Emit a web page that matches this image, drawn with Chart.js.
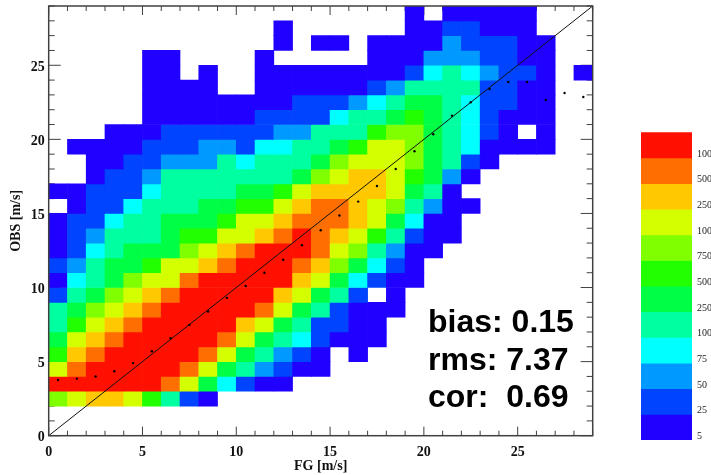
<!DOCTYPE html>
<html lang="en">
<head>
<meta charset="UTF-8">
<title>chart</title>
<style>
  html, body { margin: 0; padding: 0; background: #fff; overflow: hidden; }
  #mainChart { position: absolute; left: 0; top: 0; }
  #scaleChart { position: absolute; left: 630px; top: 120px; }
</style>
</head>
<body>
<canvas id="mainChart" width="711" height="475"></canvas>
<canvas id="scaleChart" width="81" height="335"></canvas>
<script src="https://cdn.jsdelivr.net/npm/chart.js"></script>
<script>

// colour class of each FG bin, one list per OBS bin. 0 = empty, 1 = lowest class
const row2  = [8,9,10,10,9,7,5,2,1];
const row3  = [12,12,12,12,12,12,11,9,6,4,2,1,1];
const row4  = [9,11,12,12,12,12,12,11,9,6,5,3,2,1,1];
const row5  = [7,10,11,12,12,12,12,12,11,9,6,5,3,2,1,0,1];
const row6  = [6,9,10,11,12,12,12,12,12,11,9,6,5,4,2,1,1,1];
const row7  = [5,7,9,10,11,12,12,12,12,12,10,9,6,5,2,2,1,1];
const row8  = [5,6,8,9,10,11,12,12,12,12,12,11,9,6,5,2,1,1,1];
const row9  = [2,5,6,8,9,10,11,12,12,12,12,12,10,9,6,5,2,0,1];
const row10 = [1,4,5,6,8,9,9,11,12,12,12,12,12,10,9,6,4,2,1,1];
const row11 = [2,3,5,6,6,7,9,9,10,11,12,12,12,11,10,8,6,4,2,1];
const row12 = [1,2,4,5,6,6,6,8,9,10,11,12,12,12,11,9,8,5,3,1,1];
const row13 = [1,2,3,5,5,5,6,7,7,9,9,10,11,12,11,10,9,7,5,2,1,1];
const row14 = [1,2,2,4,5,5,6,6,6,7,9,9,10,11,11,11,10,9,6,4,1,1];
const row15 = [0,1,2,2,4,5,5,5,6,6,7,7,9,10,11,11,10,9,8,5,3,1,1];
const row16 = [1,1,2,2,2,4,5,5,5,5,6,6,7,9,10,10,10,10,9,6,5,1];
const row17 = [0,0,1,2,2,3,5,5,5,5,5,5,5,6,8,9,10,10,9,7,6,3,1];
const row18 = [0,0,1,1,2,2,3,3,3,5,4,5,5,5,6,8,9,9,9,8,6,5,2,1];
const row19 = [0,1,1,1,1,2,2,2,3,3,2,4,4,5,5,6,7,9,9,8,6,5,4,1,1,1,1];
const row20 = [0,0,0,1,1,1,2,2,2,2,2,2,3,3,5,5,5,7,8,8,6,5,4,2,1,0,1];
const row21 = [0,0,0,0,0,1,1,1,1,1,1,2,2,2,2,4,5,5,6,7,6,5,4,2,1,1,1];
const row22 = [0,0,0,0,0,1,1,1,1,1,1,1,1,2,2,2,3,4,5,6,6,5,4,2,2,1,1];
const row23 = [0,0,0,0,0,1,1,1,1,0,0,1,1,1,1,1,1,2,3,5,5,5,5,2,2,1,1];
const row24 = [0,0,0,0,0,1,1,0,1,0,0,1,1,1,1,1,1,1,1,2,4,5,4,3,2,2,1,0,1];
const row25 = [0,0,0,0,0,1,1,0,0,0,0,1,0,0,0,0,0,1,1,1,3,3,3,2,2,1,1];
const row26 = [0,0,0,0,0,0,0,0,0,0,0,0,1,0,1,1,0,1,1,1,1,3,2,2,2,1,1];
const row27 = [0,0,0,0,0,0,0,0,0,0,0,0,1,0,0,0,0,0,0,1,1,2,2,1,1,1];
const row28 = [0,0,0,0,0,0,0,0,0,0,0,0,0,0,0,0,0,0,0,1,0,1,1,1,1,1];

const obsRows = [
  [2, row2], [3, row3], [4, row4], [5, row5], [6, row6], [7, row7], [8, row8], [9, row9],
  [10, row10], [11, row11], [12, row12], [13, row13], [14, row14], [15, row15], [16, row16],
  [17, row17], [18, row18], [19, row19], [20, row20], [21, row21], [22, row22], [23, row23],
  [24, row24], [25, row25], [26, row26], [27, row27], [28, row28]
];

// mean OBS per FG bin (the small black dots)
const meanFG  = [0.5,1.5,2.5,3.5,4.5,5.5,6.5,7.5,8.5,9.5,10.5,11.5,12.5,13.5,14.5,15.5,16.5,17.5,18.5,19.5,20.5,21.5,22.5,23.5,24.5,25.5,26.5,27.5,28.5];
const meanOBS = [3.76,3.85,4.0,4.35,4.9,5.7,6.58,7.48,8.38,9.3,10.1,11.0,11.87,12.86,13.87,14.86,15.8,16.85,18.0,19.2,20.34,21.6,22.5,23.4,23.87,23.87,22.66,23.13,22.86];

const diagonalX = [0, 29];
const diagonalY = [0, 29];

// colour bar, lowest class first (labels are cut by the picture edge)
const classLabels = ['5','25','50','75','100','250','500','750','100','250','500','100'];
const classColors = ['#2000ff','#0044ff','#0099ff','#00ffff','#00ffa0','#00ff44','#22ff00','#7fff00','#d4ff00','#ffc800','#ff6e00','#ff1000'];

const statsText = ['bias: 0.15', 'rms: 7.37', 'cor:  0.69'];
const xTitle = 'FG [m/s]';
const yTitle = 'OBS [m/s]';

const axisMax = 29;
const serif = '"Liberation Serif", serif';

const cells = [];
obsRows.forEach(function (entry) {
  entry[1].forEach(function (level, col) {
    if (level > 0) cells.push({ x: col + 0.5, y: [entry[0], entry[0] + 1], level: level });
  });
});

function everyFifth(value) {
  return value % 5 === 0 ? value : '';
}

// IDL style inward ticks on all four sides, under the cells
const inwardTicks = {
  id: 'inwardTicks',
  beforeDatasetsDraw(chart) {
    const { ctx, chartArea: a, scales } = chart;
    ctx.save();
    ctx.strokeStyle = '#404040';
    ctx.lineWidth = 1;
    ctx.beginPath();
    scales.x.ticks.forEach(function (t) {
      const px = scales.x.getPixelForValue(t.value);
      const len = t.value % 5 === 0 ? 9 : 5;
      ctx.moveTo(px, a.bottom); ctx.lineTo(px, a.bottom - len);
      ctx.moveTo(px, a.top); ctx.lineTo(px, a.top + len);
    });
    scales.y.ticks.forEach(function (t) {
      const py = scales.y.getPixelForValue(t.value);
      const len = t.value % 5 === 0 ? 12 : 6;
      ctx.moveTo(a.left, py); ctx.lineTo(a.left + len, py);
      ctx.moveTo(a.right, py); ctx.lineTo(a.right - len, py);
    });
    ctx.stroke();
    ctx.restore();
  },
  afterDatasetsDraw(chart) {
    const { ctx, chartArea: a } = chart;
    ctx.save();
    ctx.strokeStyle = '#404040';
    ctx.lineWidth = 1.5;
    ctx.strokeRect(a.left, a.top, a.right - a.left, a.bottom - a.top);
    ctx.restore();
  }
};

const statsBlock = {
  id: 'statsBlock',
  afterDraw(chart) {
    const { ctx } = chart;
    ctx.save();
    ctx.fillStyle = '#000';
    ctx.font = 'bold 32px "Liberation Sans", sans-serif';
    ctx.textAlign = 'left';
    ctx.textBaseline = 'alphabetic';
    statsText.forEach(function (line, i) {
      ctx.fillText(line, 428, 332 + i * 37.5);
    });
    ctx.restore();
  }
};

new Chart(document.getElementById('mainChart'), {
  type: 'bar',
  data: {
    datasets: [
      {
        type: 'scatter',
        data: meanFG.map(function (x, i) { return { x: x, y: meanOBS[i] }; }),
        pointRadius: 1.2,
        pointBackgroundColor: '#000',
        pointBorderWidth: 0,
        order: 1
      },
      {
        type: 'line',
        data: diagonalX.map(function (x, i) { return { x: x, y: diagonalY[i] }; }),
        borderColor: '#111',
        borderWidth: 1,
        pointRadius: 0,
        order: 2
      },
      {
        type: 'bar',
        data: cells,
        backgroundColor: function (c) { return c.raw ? classColors[c.raw.level - 1] : 'transparent'; },
        barPercentage: 1,
        categoryPercentage: 1,
        order: 3
      }
    ]
  },
  options: {
    responsive: false,
    animation: false,
    layout: { padding: { left: 0, top: 6, right: 118.3, bottom: 0 } },
    plugins: { legend: { display: false }, tooltip: { enabled: false } },
    scales: {
      x: {
        type: 'linear',
        offset: false,
        min: 0,
        max: axisMax,
        grid: { display: false, drawTicks: false, offset: false },
        border: { display: false },
        ticks: { stepSize: 1, autoSkip: false, maxRotation: 0, padding: 8, color: '#111', font: { family: serif, size: 14, weight: 'bold' }, callback: everyFifth },
        title: { display: true, text: xTitle, color: '#111', font: { family: serif, size: 14, weight: 'bold' }, padding: { top: 0, bottom: 0 } },
        afterFit(scale) { scale.height = 39.3; scale.paddingLeft = 0; scale.paddingRight = 0; }
      },
      y: {
        type: 'linear',
        min: 0,
        max: axisMax,
        grid: { display: false, drawTicks: false },
        border: { display: false },
        ticks: { stepSize: 1, autoSkip: false, padding: 4, labelOffset: 2, color: '#111', font: { family: serif, size: 14, weight: 'bold' }, callback: everyFifth },
        title: { display: true, text: yTitle, color: '#111', font: { family: serif, size: 14, weight: 'bold' }, padding: { top: 8, bottom: 0 } },
        afterFit(scale) { scale.width = 48.7; scale.paddingTop = 0; scale.paddingBottom = 0; }
      }
    }
  },
  plugins: [inwardTicks, statsBlock]
});

new Chart(document.getElementById('scaleChart'), {
  type: 'bar',
  data: {
    labels: classLabels,
    datasets: [{
      data: classLabels.map(function () { return 1; }),
      backgroundColor: classColors,
      barPercentage: 1,
      categoryPercentage: 1
    }]
  },
  options: {
    indexAxis: 'y',
    responsive: false,
    animation: false,
    layout: { padding: { left: 11, top: 12.3, right: 0, bottom: 15 } },
    plugins: { legend: { display: false }, tooltip: { enabled: false } },
    scales: {
      x: { display: false, min: 0, max: 1 },
      y: {
        position: 'right',
        reverse: true,
        grid: { display: false, drawTicks: false },
        border: { display: false },
        ticks: { autoSkip: false, padding: 5, labelOffset: 9, color: '#222', font: { family: serif, size: 10 } },
        afterFit(scale) { scale.width = 19; }
      }
    }
  }
});

</script>
</body>
</html>
